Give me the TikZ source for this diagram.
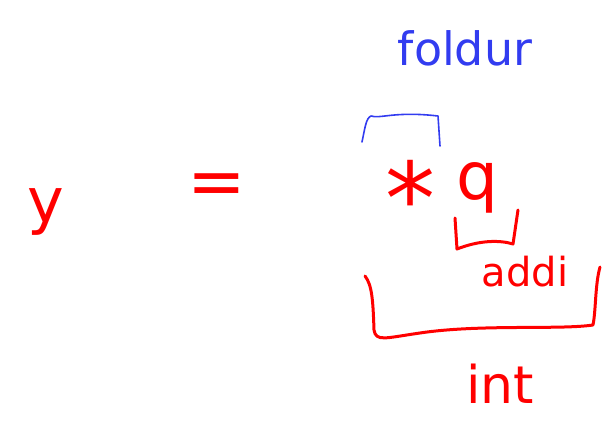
\documentclass[tikz,border=0pt]{standalone}
\usepackage{fontspec}
\setmainfont{DejaVu Sans}
\definecolor{pen}{RGB}{255,0,0}
\definecolor{bluepen}{RGB}{50,60,240}
\begin{document}
\begin{tikzpicture}[x=1pt,y=-1pt,
  redtxt/.style={text=pen,inner sep=0pt,font=\fontsize{#1}{#1}\selectfont},
  bluetxt/.style={text=bluepen,inner sep=0pt,font=\fontsize{#1}{#1}\selectfont},
  redline/.style={draw=pen,line width=3pt,line cap=round,line join=round},
  blueline/.style={draw=bluepen,line width=1.6pt,line cap=round,line join=round}]
\useasboundingbox (0,0) rectangle (614,425);
\node[redtxt=62] (y) at (46,212) {y};
\node[redtxt=70] (eq) at (217,190) {=};
\node[redtxt=100, anchor=north] (star) at (410,160) {*};
\node[redtxt=66] (q) at (477,188) {q};
\node[bluetxt=46] (folder) at (465,48) {foldur};
\node[redtxt=40] (addi) at (525,272) {addi};
\node[redtxt=52] (int) at (500,384) {int};
% blue bracket over *
\draw[blueline] (362,142) .. controls (365,128) and (366,118) .. (371,116)
  .. controls (380,119) and (395,111) .. (438,116) -- (440,146);
% small red bracket under q
\draw[redline] (455,218) -- (457,249) .. controls (480,240) and (500,240) .. (513,244) -- (518,210);
% big red bracket
\draw[redline] (365,276) .. controls (372,285) and (373,300) .. (374,330)
  .. controls (376,342) and (385,338) .. (420,333)
  .. controls (480,324) and (560,330) .. (593,325)
  .. controls (596,310) and (595,285) .. (600,267);
\end{tikzpicture}
\end{document}
